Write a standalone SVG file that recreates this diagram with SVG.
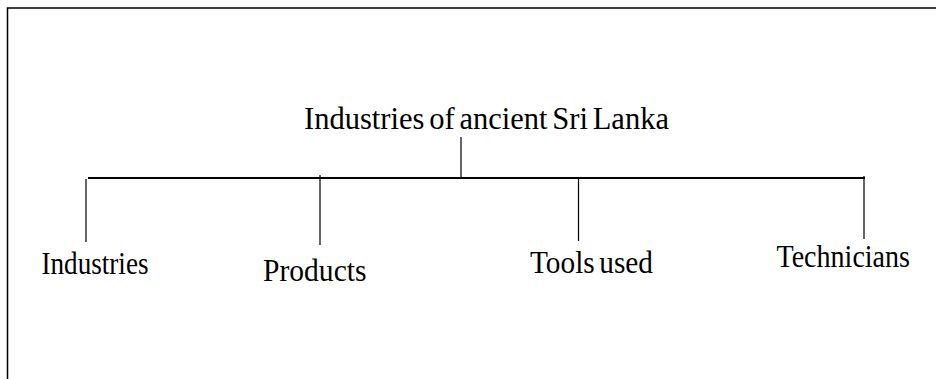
<svg xmlns="http://www.w3.org/2000/svg" width="936" height="379" viewBox="0 0 936 379">
<style>
.t{font-family:"Liberation Serif","Times New Roman",serif;font-size:32px;fill:#000;word-spacing:-3px}
.c{stroke:#000;fill:none}
</style>
<rect x="0" y="0" width="936" height="379" fill="#fff"/>
<path d="M7.5,379 V8 H936" fill="none" stroke="#000" stroke-width="1.5"/>
<g id="connectors">
<line class="c" x1="461" y1="137" x2="461" y2="178" stroke-width="1.2"/>
<line class="c" x1="88" y1="178" x2="865" y2="178" stroke-width="1.8"/>
<line class="c" x1="86" y1="179" x2="86" y2="242" stroke-width="1.2"/>
<line class="c" x1="320" y1="175" x2="320" y2="245" stroke-width="1.2"/>
<line class="c" x1="578.5" y1="178" x2="578.5" y2="241" stroke-width="1.2"/>
<line class="c" x1="864" y1="176" x2="864" y2="239" stroke-width="1.2"/>
</g>
<g id="root"><text class="t" x="304" y="129" textLength="365" lengthAdjust="spacingAndGlyphs">Industries of ancient Sri Lanka</text></g>
<g id="industries"><text class="t" x="41.5" y="274" textLength="107" lengthAdjust="spacingAndGlyphs">Industries</text></g>
<g id="products"><text class="t" x="263" y="280.5" textLength="103.5" lengthAdjust="spacingAndGlyphs">Products</text></g>
<g id="tools"><text class="t" x="530" y="273" textLength="123" lengthAdjust="spacingAndGlyphs">Tools used</text></g>
<g id="technicians"><text class="t" x="776.5" y="266.5" textLength="133.5" lengthAdjust="spacingAndGlyphs">Technicians</text></g>
</svg>
